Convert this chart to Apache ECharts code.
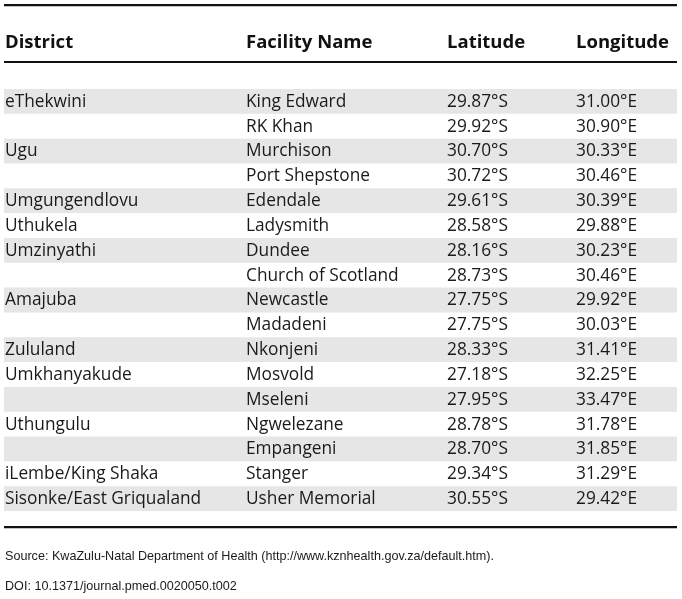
<!DOCTYPE html>
<html>
<head>
<meta charset="utf-8">
<script src="https://cdn.jsdelivr.net/npm/echarts@6/dist/echarts.min.js"></script>
<style>html,body{margin:0;padding:0;background:#fff}#c{width:682px;height:599px}</style>
</head>
<body>
<div id="c"></div>
<script>
const headers = ['District', 'Facility Name', 'Latitude', 'Longitude'];
const districts = ['eThekwini', '', 'Ugu', '', 'Umgungendlovu', 'Uthukela', 'Umzinyathi', '', 'Amajuba', '', 'Zululand', 'Umkhanyakude', '', 'Uthungulu', '', 'iLembe/King Shaka', 'Sisonke/East Griqualand'];
const facilities = ['King Edward', 'RK Khan', 'Murchison', 'Port Shepstone', 'Edendale', 'Ladysmith', 'Dundee', 'Church of Scotland', 'Newcastle', 'Madadeni', 'Nkonjeni', 'Mosvold', 'Mseleni', 'Ngwelezane', 'Empangeni', 'Stanger', 'Usher Memorial'];
const latitudes = [29.87, 29.92, 30.70, 30.72, 29.61, 28.58, 28.16, 28.73, 27.75, 27.75, 28.33, 27.18, 27.95, 28.78, 28.70, 29.34, 30.55];
const longitudes = [31.00, 30.90, 30.33, 30.46, 30.39, 29.88, 30.23, 30.46, 29.92, 30.03, 31.41, 32.25, 33.47, 31.78, 31.85, 31.29, 29.42];
const sourceNote = 'Source: KwaZulu-Natal Department of Health (http://www.kznhealth.gov.za/default.htm).';
const doiNote = 'DOI: 10.1371/journal.pmed.0020050.t002';

const rowIds = facilities.map((_, i) => String(i));
const colX = [5, 246, 447, 576];
const FONT = '"Open Sans", "Noto Sans", sans-serif';
const TXT = '#1a1a1a';

const rows = facilities.map((f, i) => [i, districts[i], f, latitudes[i].toFixed(2) + '°S', longitudes[i].toFixed(2) + '°E']);

const chart = echarts.init(document.getElementById('c'), null, {renderer: 'canvas'});
chart.setOption({
  animation: false,
  backgroundColor: '#fff',
  grid: {left: 0, right: 0, top: 89, bottom: 88},
  xAxis: {type: 'value', min: 0, max: 682, show: false},
  yAxis: {type: 'category', data: rowIds, inverse: true, show: false},
  series: [{
    type: 'custom',
    data: rows,
    encode: {y: 0},
    renderItem: function (params, api) {
      const idx = api.value(0);
      const center = api.coord([0, idx]);
      const h = api.size([0, 1])[1];
      const yTop = center[1] - h / 2;
      const children = [];
      if (idx % 2 === 0) {
        const l = api.coord([4, idx])[0], r = api.coord([677, idx])[0];
        children.push({type: 'rect', shape: {x: l, y: yTop, width: r - l, height: h}, style: {fill: '#e6e6e6'}});
      }
      const texts = [rows[idx][1], rows[idx][2], rows[idx][3], rows[idx][4]];
      texts.forEach((t, c) => {
        if (!t) return;
        children.push({type: 'text', x: api.coord([colX[c], idx])[0], y: center[1] + 0.5,
          style: {text: t, fill: TXT, font: '17.3px ' + FONT, textVerticalAlign: 'middle', textAlign: 'left'}});
      });
      return {type: 'group', children: children};
    }
  }],
  graphic: [
    {type: 'rect', shape: {x: 4, y: 4, width: 673, height: 2.2}, style: {fill: '#111'}},
    {type: 'rect', shape: {x: 4, y: 61, width: 673, height: 2}, style: {fill: '#111'}},
    {type: 'rect', shape: {x: 4, y: 526, width: 673, height: 2.2}, style: {fill: '#111'}}
  ].concat(headers.map((h, c) => ({
    type: 'text', x: colX[c], y: 43,
    style: {text: h, fill: '#111', font: 'bold 18.5px ' + FONT, textVerticalAlign: 'middle'}
  }))).concat([
    {type: 'text', x: 5, y: 557, style: {text: sourceNote, fill: TXT, font: '12.6px "Liberation Sans", sans-serif', textVerticalAlign: 'middle'}},
    {type: 'text', x: 5, y: 587, style: {text: doiNote, fill: TXT, font: '12.6px "Liberation Sans", sans-serif', textVerticalAlign: 'middle'}}
  ])
});
</script>
</body>
</html>
